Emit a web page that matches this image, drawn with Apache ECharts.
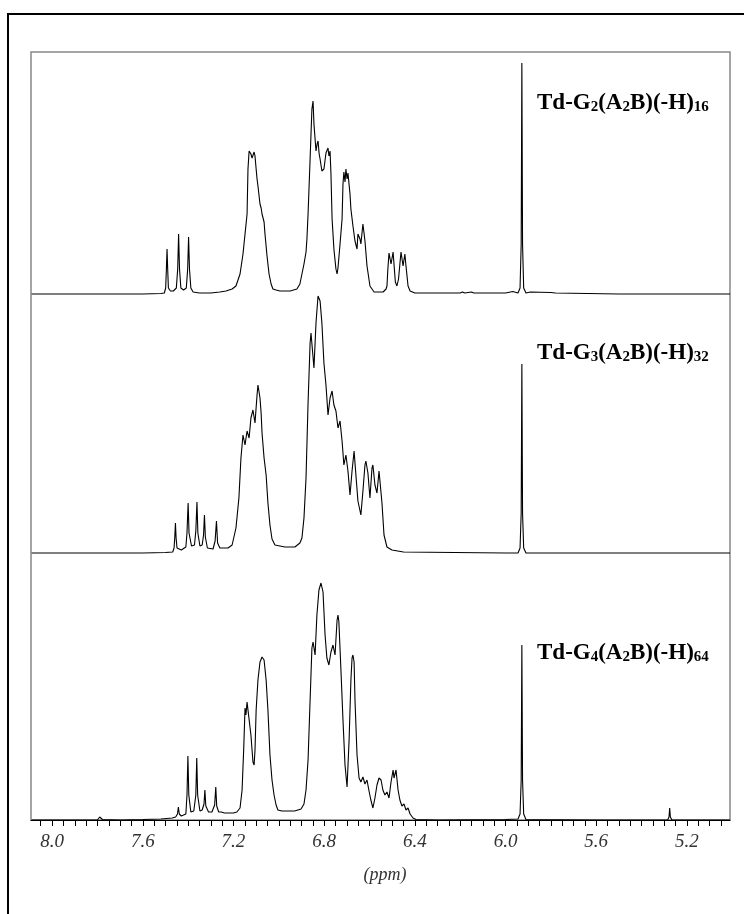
<!DOCTYPE html>
<html>
<head>
<meta charset="utf-8">
<script src="https://cdn.jsdelivr.net/npm/echarts@6/dist/echarts.min.js"></script>
<style>html,body{margin:0;padding:0;background:#fff}#c{width:744px;height:914px}</style>
</head>
<body>
<div id="c"></div>
<script>
// x axis (ppm) tick labels
const ppmLabels = [8.0, 7.6, 7.2, 6.8, 6.4, 6.0, 5.6, 5.2];
// spectrum label parts: [text, sub, text, sub, text, sub]
const labelParts = [
  ['Td-G', '2', '(A', '2', 'B)(-H)', '16'],
  ['Td-G', '3', '(A', '2', 'B)(-H)', '32'],
  ['Td-G', '4', '(A', '2', 'B)(-H)', '64']
];
// [ppm, intensity] — Td-G2
const topTrace = [
[8.09,0],[7.80,0],[7.60,0],[7.52,0.5],[7.505,1],[7.499,6],[7.496,24],[7.493,45],[7.490,24],[7.487,6],[7.478,3],[7.465,3],[7.452,6],[7.446,25],[7.442,60],[7.438,25],[7.432,6],[7.420,4],[7.408,6],[7.402,25],[7.398,57],[7.394,25],[7.388,6],[7.378,2],[7.35,1],[7.30,1],[7.26,2],[7.233,3],[7.206,5],[7.189,8],[7.171,20],[7.158,40],[7.149,60],[7.140,80],[7.136,125],[7.131,143],[7.123,140],[7.118,136],[7.114,138],[7.109,142],[7.105,138],[7.100,125],[7.096,115],[7.092,108],[7.087,98],[7.083,90],[7.078,86],[7.074,80],[7.070,82],[7.065,72],[7.061,60],[7.056,48],[7.052,38],[7.043,20],[7.034,10],[7.026,5],[7.012,4],[6.995,3],[6.95,3],[6.92,5],[6.907,10],[6.898,20],[6.889,30],[6.880,42],[6.876,55],[6.871,80],[6.862,135],[6.854,185],[6.849,193],[6.845,170],[6.840,155],[6.836,143],[6.831,150],[6.827,153],[6.822,140],[6.818,135],[6.810,123],[6.801,125],[6.792,141],[6.783,146],[6.779,138],[6.774,143],[6.770,120],[6.765,75],[6.757,45],[6.748,25],[6.743,20],[6.739,26],[6.730,50],[6.721,75],[6.717,110],[6.713,122],[6.708,112],[6.704,125],[6.699,115],[6.695,121],[6.686,100],[6.682,85],[6.673,68],[6.664,53],[6.655,45],[6.651,60],[6.642,55],[6.638,50],[6.629,70],[6.620,53],[6.611,28],[6.598,8],[6.580,2],[6.54,2],[6.527,5],[6.523,8],[6.519,25],[6.514,41],[6.505,30],[6.496,42],[6.492,30],[6.486,12],[6.479,8],[6.472,15],[6.466,30],[6.461,42],[6.452,28],[6.444,40],[6.439,28],[6.430,8],[6.421,3],[6.40,1],[6.20,1],[6.19,2],[6.18,1],[6.15,2],[6.14,1],[6.00,1],[5.968,2.5],[5.962,1],[5.945,1],[5.936,6],[5.931,50],[5.928,231],[5.925,50],[5.920,6],[5.910,1],[5.89,2],[5.885,1],[5.80,1.5],[5.78,1],[5.50,0],[5.01,0]
];
// Td-G3
const midTrace = [
[8.09,0],[7.60,0],[7.50,0.5],[7.468,1],[7.462,5],[7.459,15],[7.456,30],[7.453,15],[7.449,5],[7.43,3],[7.41,6],[7.405,20],[7.400,50],[7.396,20],[7.385,7],[7.372,8],[7.366,22],[7.361,51],[7.357,20],[7.348,7],[7.338,8],[7.332,18],[7.328,38],[7.324,16],[7.315,5],[7.29,4],[7.281,12],[7.275,32],[7.270,10],[7.260,5],[7.24,5],[7.224,5],[7.206,8],[7.189,25],[7.176,55],[7.167,95],[7.158,118],[7.149,108],[7.140,122],[7.131,115],[7.123,135],[7.114,143],[7.105,130],[7.096,158],[7.092,168],[7.083,155],[7.078,140],[7.074,120],[7.065,95],[7.056,78],[7.048,50],[7.039,28],[7.030,14],[7.017,8],[6.973,6],[6.929,6],[6.907,10],[6.898,15],[6.889,35],[6.880,75],[6.871,150],[6.862,210],[6.858,220],[6.854,218],[6.845,185],[6.836,230],[6.827,257],[6.818,252],[6.810,230],[6.801,190],[6.792,168],[6.783,138],[6.774,155],[6.765,162],[6.757,148],[6.748,142],[6.739,125],[6.730,132],[6.721,112],[6.713,88],[6.704,98],[6.695,82],[6.686,58],[6.677,82],[6.668,102],[6.660,78],[6.651,52],[6.638,38],[6.629,62],[6.620,88],[6.616,92],[6.607,80],[6.598,55],[6.589,85],[6.585,88],[6.576,68],[6.567,60],[6.558,82],[6.554,80],[6.545,50],[6.536,18],[6.523,6],[6.501,3],[6.45,1],[6.00,0],[5.945,0],[5.936,5],[5.931,40],[5.928,189],[5.925,40],[5.920,5],[5.910,0],[5.01,0]
];
// Td-G4
const botTrace = [
[8.09,0],[7.80,0],[7.795,0.5],[7.790,3],[7.787,1],[7.783,3],[7.778,0.5],[7.70,0],[7.60,0.5],[7.52,1],[7.47,2],[7.455,3],[7.447,6],[7.443,13],[7.439,6],[7.430,4],[7.41,6],[7.405,25],[7.401,64],[7.397,25],[7.388,8],[7.375,9],[7.366,25],[7.362,62],[7.358,25],[7.348,9],[7.338,10],[7.330,16],[7.326,30],[7.322,14],[7.310,8],[7.295,8],[7.283,15],[7.278,33],[7.274,14],[7.265,8],[7.258,10],[7.254,8],[7.248,10],[7.240,7],[7.22,7],[7.20,7],[7.185,8],[7.171,12],[7.162,30],[7.155,70],[7.149,112],[7.145,105],[7.140,118],[7.136,110],[7.131,112],[7.123,85],[7.114,58],[7.109,55],[7.105,70],[7.100,110],[7.092,140],[7.083,158],[7.074,163],[7.065,160],[7.056,140],[7.048,110],[7.039,65],[7.030,40],[7.021,25],[7.012,15],[7.004,10],[6.986,9],[6.93,9],[6.902,11],[6.889,16],[6.880,30],[6.871,60],[6.862,120],[6.854,172],[6.849,178],[6.840,165],[6.832,205],[6.823,230],[6.814,237],[6.805,228],[6.796,185],[6.788,162],[6.779,155],[6.770,168],[6.761,175],[6.752,165],[6.743,200],[6.739,205],[6.735,198],[6.726,150],[6.717,100],[6.708,55],[6.699,33],[6.690,80],[6.682,140],[6.677,162],[6.673,165],[6.668,158],[6.664,120],[6.655,65],[6.646,42],[6.638,38],[6.629,43],[6.620,36],[6.611,40],[6.603,30],[6.594,20],[6.585,12],[6.576,22],[6.567,35],[6.558,42],[6.549,40],[6.541,30],[6.532,25],[6.523,28],[6.514,22],[6.505,38],[6.496,50],[6.492,42],[6.483,50],[6.474,30],[6.466,20],[6.457,14],[6.448,16],[6.439,10],[6.430,12],[6.421,6],[6.408,2],[6.395,0.5],[6.30,0],[6.00,0.5],[5.945,1],[5.936,6],[5.931,40],[5.928,175],[5.925,40],[5.920,6],[5.910,0.5],[5.60,0],[5.285,0],[5.279,3],[5.276,12],[5.273,3],[5.266,0],[5.06,0],[5.053,2],[5.048,0],[5.01,0]
];
const traces = [topTrace, midTrace, botTrace];

const X_MIN = 5.01, X_MAX = 8.093;
const minorTicks = [];
for (let i = 101; i <= 161; i++) minorTicks.push(+(i * 0.05).toFixed(2));

const serif = "'Liberation Serif', 'Times New Roman', serif";
const gridTops = [34, 293, 560];
const labelTops = [89, 339, 639];

const chart = echarts.init(document.getElementById('c'), null, {renderer: 'canvas'});
const option = {
  animation: false,
  backgroundColor: '#fff',
  grid: gridTops.map(t => ({left: 31, right: 14, top: t, height: 260})),
  xAxis: [0, 1, 2].map(i => ({
    type: 'value', gridIndex: i, inverse: true, min: X_MIN, max: X_MAX,
    show: i === 2,
    splitLine: {show: false},
    axisLine: {show: true, onZero: false, lineStyle: {color: '#000', width: 1}},
    axisTick: {show: true, customValues: minorTicks, length: 6, lineStyle: {color: '#000', width: 1}},
    axisLabel: {
      show: true, customValues: ppmLabels, margin: 12,
      formatter: v => v.toFixed(1),
      fontFamily: serif, fontStyle: 'italic', fontSize: 19, color: '#333'
    }
  })),
  yAxis: [0, 1, 2].map(i => ({type: 'value', gridIndex: i, min: 0, max: 260, show: false})),
  title: labelParts.map((p, i) => ({
    left: 537, top: labelTops[i], padding: 0,
    text: `{m|${p[0]}}{s|${p[1]}}{m|${p[2]}}{s|${p[3]}}{m|${p[4]}}{s|${p[5]}}`,
    textStyle: {
      rich: {
        m: {fontFamily: serif, fontWeight: 'bold', fontSize: 23, color: '#000', lineHeight: 26, verticalAlign: 'bottom'},
        s: {fontFamily: serif, fontWeight: 'bold', fontSize: 15, color: '#000', lineHeight: 15, verticalAlign: 'bottom'}
      }
    }
  })),
  graphic: [
    {type: 'rect', shape: {x: 8, y: 14, width: 800, height: 960}, style: {fill: 'none', stroke: '#000', lineWidth: 2}, silent: true, z: 0},
    {type: 'rect', shape: {x: 31, y: 52, width: 699, height: 768}, style: {fill: 'none', stroke: '#888', lineWidth: 1.5}, silent: true, z: 0},
    {type: 'text', x: 385, y: 875, style: {text: '(ppm)', fontFamily: serif, fontStyle: 'italic', fontSize: 18, fill: '#333', textAlign: 'center', textVerticalAlign: 'middle'}, silent: true}
  ],
  series: traces.map((d, i) => ({
    type: 'line', xAxisIndex: i, yAxisIndex: i, data: d,
    showSymbol: false, symbol: 'none', smooth: false, clip: false,
    lineStyle: {color: '#000', width: 1.1}, z: 5
  }))
};
chart.setOption(option);
</script>
</body>
</html>
